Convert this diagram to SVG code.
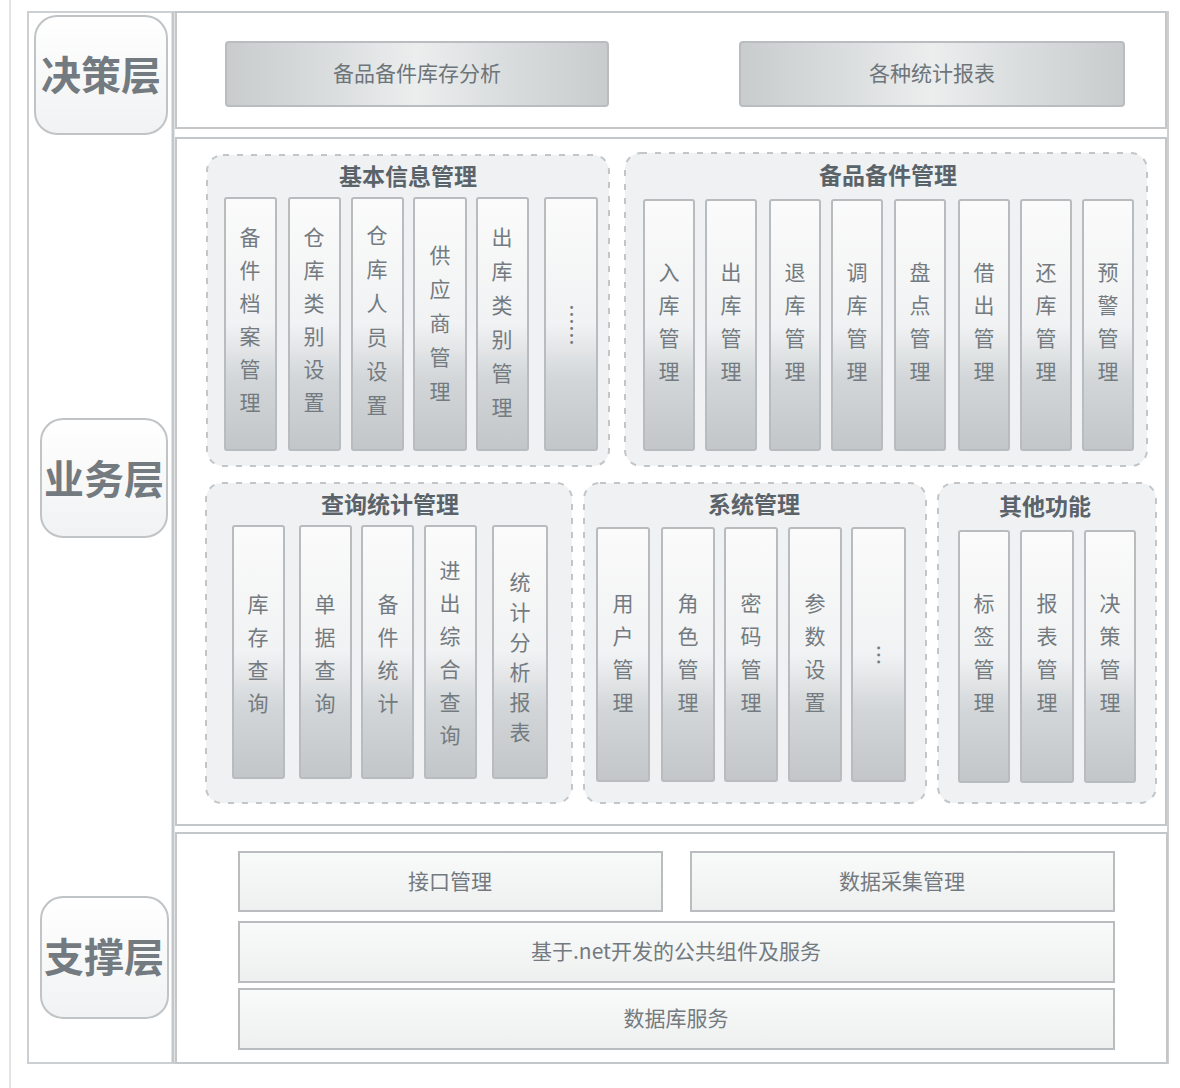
<svg xmlns="http://www.w3.org/2000/svg" width="1180" height="1088" viewBox="0 0 1180 1088">
<defs>
<linearGradient id="colG" x1="0" y1="0" x2="0" y2="1">
<stop offset="0" stop-color="#fbfbfb"/>
<stop offset="0.5" stop-color="#f1f2f3"/>
<stop offset="0.72" stop-color="#d2d6d8"/>
<stop offset="1" stop-color="#c2c6c9"/>
</linearGradient>
<linearGradient id="decG" x1="0" y1="0" x2="1" y2="0">
<stop offset="0" stop-color="#c9cccd"/>
<stop offset="0.3" stop-color="#dcdfe0"/>
<stop offset="0.5" stop-color="#eceeee"/>
<stop offset="0.7" stop-color="#dcdfe0"/>
<stop offset="1" stop-color="#c9cccd"/>
</linearGradient>
<linearGradient id="supG" x1="0" y1="0" x2="0" y2="1">
<stop offset="0" stop-color="#f9fafa"/>
<stop offset="1" stop-color="#eef0f0"/>
</linearGradient>
<linearGradient id="labG" x1="0" y1="0" x2="0" y2="1">
<stop offset="0" stop-color="#ffffff"/>
<stop offset="1" stop-color="#f1f2f3"/>
</linearGradient>
</defs>
<style>
.frame{fill:#ffffff;stroke:#c4c7c9;stroke-width:2}
.lab{fill:url(#labG);stroke:#c0c4c6;stroke-width:2}
.labt{font-family:"Noto Sans CJK SC",sans-serif;font-size:40px;font-weight:bold;fill:#737a80;text-anchor:middle}
.dec{fill:url(#decG);stroke:#b9bdbf;stroke-width:2}
.dect{font-family:"Noto Sans CJK SC",sans-serif;font-size:21px;fill:#6e757a;text-anchor:middle}
.grp{fill:#eff1f2;stroke:#c2c6c8;stroke-width:2;stroke-dasharray:6 8}
.gt{font-family:"Noto Sans CJK SC",sans-serif;font-size:23px;font-weight:bold;fill:#5b636a;text-anchor:middle}
.col{fill:url(#colG);stroke:#b8bcbf;stroke-width:2}
.ct{font-family:"Noto Sans CJK SC",sans-serif;font-size:21px;fill:#737b81;text-anchor:middle}
.sup{fill:url(#supG);stroke:#b9bdbf;stroke-width:2}
.supt{font-family:"Noto Sans CJK SC",sans-serif;font-size:21px;fill:#737a80;text-anchor:middle}
</style>
<rect width="1180" height="1088" fill="#ffffff"/>
<line x1="10" y1="0" x2="10" y2="1088" stroke="#e2e4e5" stroke-width="2"/>
<rect x="28" y="12" width="1140" height="1051" fill="#ffffff" stroke="#cdd0d2" stroke-width="2"/>
<line x1="173" y1="12" x2="173" y2="1063" stroke="#c4c7c9" stroke-width="3"/>

<g id="layer-decision">
<rect class="frame" x="176" y="12" width="990" height="116"/>
<rect class="lab" x="35" y="16" width="132" height="118" rx="22"/>
<text class="labt" x="101" y="90">决策层</text>
</g>
<g id="dec-analysis"><rect class="dec" x="226" y="42" width="382" height="64" rx="3"/><text class="dect" x="417" y="81">备品备件库存分析</text></g>
<g id="dec-report"><rect class="dec" x="740" y="42" width="384" height="64" rx="3"/><text class="dect" x="932" y="81">各种统计报表</text></g>

<g id="layer-business">
<rect class="frame" x="176" y="138" width="990" height="687"/>
<rect class="lab" x="41" y="419" width="126" height="118" rx="22"/>
<text class="labt" x="104" y="494">业务层</text>
</g>

<g id="grp-basic">
<rect class="grp" x="207" y="155" width="402" height="311" rx="16"/>
<text class="gt" x="408" y="185">基本信息管理</text>
<rect class="col" x="225" y="198" width="51" height="252" rx="2"/>
<text class="ct"><tspan x="250" y="245">备</tspan><tspan x="250" dy="33">件</tspan><tspan x="250" dy="33">档</tspan><tspan x="250" dy="33">案</tspan><tspan x="250" dy="33">管</tspan><tspan x="250" dy="33">理</tspan></text>
<rect class="col" x="289" y="198" width="51" height="252" rx="2"/>
<text class="ct"><tspan x="314" y="245">仓</tspan><tspan x="314" dy="33">库</tspan><tspan x="314" dy="33">类</tspan><tspan x="314" dy="33">别</tspan><tspan x="314" dy="33">设</tspan><tspan x="314" dy="33">置</tspan></text>
<rect class="col" x="352" y="198" width="51" height="252" rx="2"/>
<text class="ct"><tspan x="377" y="243">仓</tspan><tspan x="377" dy="34">库</tspan><tspan x="377" dy="34">人</tspan><tspan x="377" dy="34">员</tspan><tspan x="377" dy="34">设</tspan><tspan x="377" dy="34">置</tspan></text>
<rect class="col" x="414" y="198" width="52" height="252" rx="2"/>
<text class="ct"><tspan x="440" y="263">供</tspan><tspan x="440" dy="34">应</tspan><tspan x="440" dy="34">商</tspan><tspan x="440" dy="34">管</tspan><tspan x="440" dy="34">理</tspan></text>
<rect class="col" x="477" y="198" width="51" height="252" rx="2"/>
<text class="ct"><tspan x="502" y="245">出</tspan><tspan x="502" dy="34">库</tspan><tspan x="502" dy="34">类</tspan><tspan x="502" dy="34">别</tspan><tspan x="502" dy="34">管</tspan><tspan x="502" dy="34">理</tspan></text>
<rect class="col" x="545" y="198" width="52" height="252" rx="2"/>
<text class="ct" transform="translate(571 325) rotate(90)" y="7">……</text>
</g>

<g id="grp-spare">
<rect class="grp" x="625" y="153" width="522" height="313" rx="16"/>
<text class="gt" x="888" y="184">备品备件管理</text>
<rect class="col" x="644" y="200" width="50" height="250" rx="2"/>
<text class="ct"><tspan x="669" y="280">入</tspan><tspan x="669" dy="33">库</tspan><tspan x="669" dy="33">管</tspan><tspan x="669" dy="33">理</tspan></text>
<rect class="col" x="706" y="200" width="50" height="250" rx="2"/>
<text class="ct"><tspan x="731" y="280">出</tspan><tspan x="731" dy="33">库</tspan><tspan x="731" dy="33">管</tspan><tspan x="731" dy="33">理</tspan></text>
<rect class="col" x="770" y="200" width="50" height="250" rx="2"/>
<text class="ct"><tspan x="795" y="280">退</tspan><tspan x="795" dy="33">库</tspan><tspan x="795" dy="33">管</tspan><tspan x="795" dy="33">理</tspan></text>
<rect class="col" x="832" y="200" width="50" height="250" rx="2"/>
<text class="ct"><tspan x="857" y="280">调</tspan><tspan x="857" dy="33">库</tspan><tspan x="857" dy="33">管</tspan><tspan x="857" dy="33">理</tspan></text>
<rect class="col" x="895" y="200" width="50" height="250" rx="2"/>
<text class="ct"><tspan x="920" y="280">盘</tspan><tspan x="920" dy="33">点</tspan><tspan x="920" dy="33">管</tspan><tspan x="920" dy="33">理</tspan></text>
<rect class="col" x="959" y="200" width="50" height="250" rx="2"/>
<text class="ct"><tspan x="984" y="280">借</tspan><tspan x="984" dy="33">出</tspan><tspan x="984" dy="33">管</tspan><tspan x="984" dy="33">理</tspan></text>
<rect class="col" x="1021" y="200" width="50" height="250" rx="2"/>
<text class="ct"><tspan x="1046" y="280">还</tspan><tspan x="1046" dy="33">库</tspan><tspan x="1046" dy="33">管</tspan><tspan x="1046" dy="33">理</tspan></text>
<rect class="col" x="1083" y="200" width="50" height="250" rx="2"/>
<text class="ct"><tspan x="1108" y="280">预</tspan><tspan x="1108" dy="33">警</tspan><tspan x="1108" dy="33">管</tspan><tspan x="1108" dy="33">理</tspan></text>
</g>

<g id="grp-query">
<rect class="grp" x="206" y="483" width="366" height="320" rx="16"/>
<text class="gt" x="390" y="513">查询统计管理</text>
<rect class="col" x="233" y="526" width="51" height="252" rx="2"/>
<text class="ct"><tspan x="258" y="612">库</tspan><tspan x="258" dy="33">存</tspan><tspan x="258" dy="33">查</tspan><tspan x="258" dy="33">询</tspan></text>
<rect class="col" x="300" y="526" width="51" height="252" rx="2"/>
<text class="ct"><tspan x="325" y="612">单</tspan><tspan x="325" dy="33">据</tspan><tspan x="325" dy="33">查</tspan><tspan x="325" dy="33">询</tspan></text>
<rect class="col" x="362" y="526" width="51" height="252" rx="2"/>
<text class="ct"><tspan x="388" y="612">备</tspan><tspan x="388" dy="33">件</tspan><tspan x="388" dy="33">统</tspan><tspan x="388" dy="33">计</tspan></text>
<rect class="col" x="425" y="526" width="51" height="252" rx="2"/>
<text class="ct"><tspan x="450" y="578">进</tspan><tspan x="450" dy="33">出</tspan><tspan x="450" dy="33">综</tspan><tspan x="450" dy="33">合</tspan><tspan x="450" dy="33">查</tspan><tspan x="450" dy="33">询</tspan></text>
<rect class="col" x="493" y="526" width="54" height="252" rx="2"/>
<text class="ct"><tspan x="520" y="590">统</tspan><tspan x="520" dy="30">计</tspan><tspan x="520" dy="30">分</tspan><tspan x="520" dy="30">析</tspan><tspan x="520" dy="30">报</tspan><tspan x="520" dy="30">表</tspan></text>
</g>

<g id="grp-system">
<rect class="grp" x="584" y="483" width="342" height="320" rx="16"/>
<text class="gt" x="754" y="513">系统管理</text>
<rect class="col" x="597" y="528" width="52" height="253" rx="2"/>
<text class="ct"><tspan x="623" y="611">用</tspan><tspan x="623" dy="33">户</tspan><tspan x="623" dy="33">管</tspan><tspan x="623" dy="33">理</tspan></text>
<rect class="col" x="662" y="528" width="52" height="253" rx="2"/>
<text class="ct"><tspan x="688" y="611">角</tspan><tspan x="688" dy="33">色</tspan><tspan x="688" dy="33">管</tspan><tspan x="688" dy="33">理</tspan></text>
<rect class="col" x="725" y="528" width="52" height="253" rx="2"/>
<text class="ct"><tspan x="751" y="611">密</tspan><tspan x="751" dy="33">码</tspan><tspan x="751" dy="33">管</tspan><tspan x="751" dy="33">理</tspan></text>
<rect class="col" x="789" y="528" width="52" height="253" rx="2"/>
<text class="ct"><tspan x="815" y="611">参</tspan><tspan x="815" dy="33">数</tspan><tspan x="815" dy="33">设</tspan><tspan x="815" dy="33">置</tspan></text>
<rect class="col" x="852" y="528" width="53" height="253" rx="2"/>
<text class="ct" transform="translate(878 655) rotate(90)" y="7">…</text>
</g>

<g id="grp-other">
<rect class="grp" x="938" y="483" width="218" height="320" rx="16"/>
<text class="gt" x="1045" y="515">其他功能</text>
<rect class="col" x="959" y="531" width="50" height="251" rx="2"/>
<text class="ct"><tspan x="984" y="611">标</tspan><tspan x="984" dy="33">签</tspan><tspan x="984" dy="33">管</tspan><tspan x="984" dy="33">理</tspan></text>
<rect class="col" x="1021" y="531" width="52" height="251" rx="2"/>
<text class="ct"><tspan x="1047" y="611">报</tspan><tspan x="1047" dy="33">表</tspan><tspan x="1047" dy="33">管</tspan><tspan x="1047" dy="33">理</tspan></text>
<rect class="col" x="1085" y="531" width="50" height="251" rx="2"/>
<text class="ct"><tspan x="1110" y="611">决</tspan><tspan x="1110" dy="33">策</tspan><tspan x="1110" dy="33">管</tspan><tspan x="1110" dy="33">理</tspan></text>
</g>

<g id="layer-support">
<rect class="frame" x="176" y="833" width="991" height="230"/>
<rect class="lab" x="41" y="897" width="127" height="121" rx="22"/>
<text class="labt" x="104" y="972">支撑层</text>
</g>
<g id="sup-interface"><rect class="sup" x="239" y="852" width="423" height="59"/><text class="supt" x="450" y="889">接口管理</text></g>
<g id="sup-collect"><rect class="sup" x="691" y="852" width="423" height="59"/><text class="supt" x="902" y="889">数据采集管理</text></g>
<g id="sup-common"><rect class="sup" x="239" y="922" width="875" height="60"/><text class="supt" x="676" y="959">基于.net开发的公共组件及服务</text></g>
<g id="sup-db"><rect class="sup" x="239" y="989" width="875" height="60"/><text class="supt" x="676" y="1026">数据库服务</text></g>
<g id="connectors"></g>
</svg>
